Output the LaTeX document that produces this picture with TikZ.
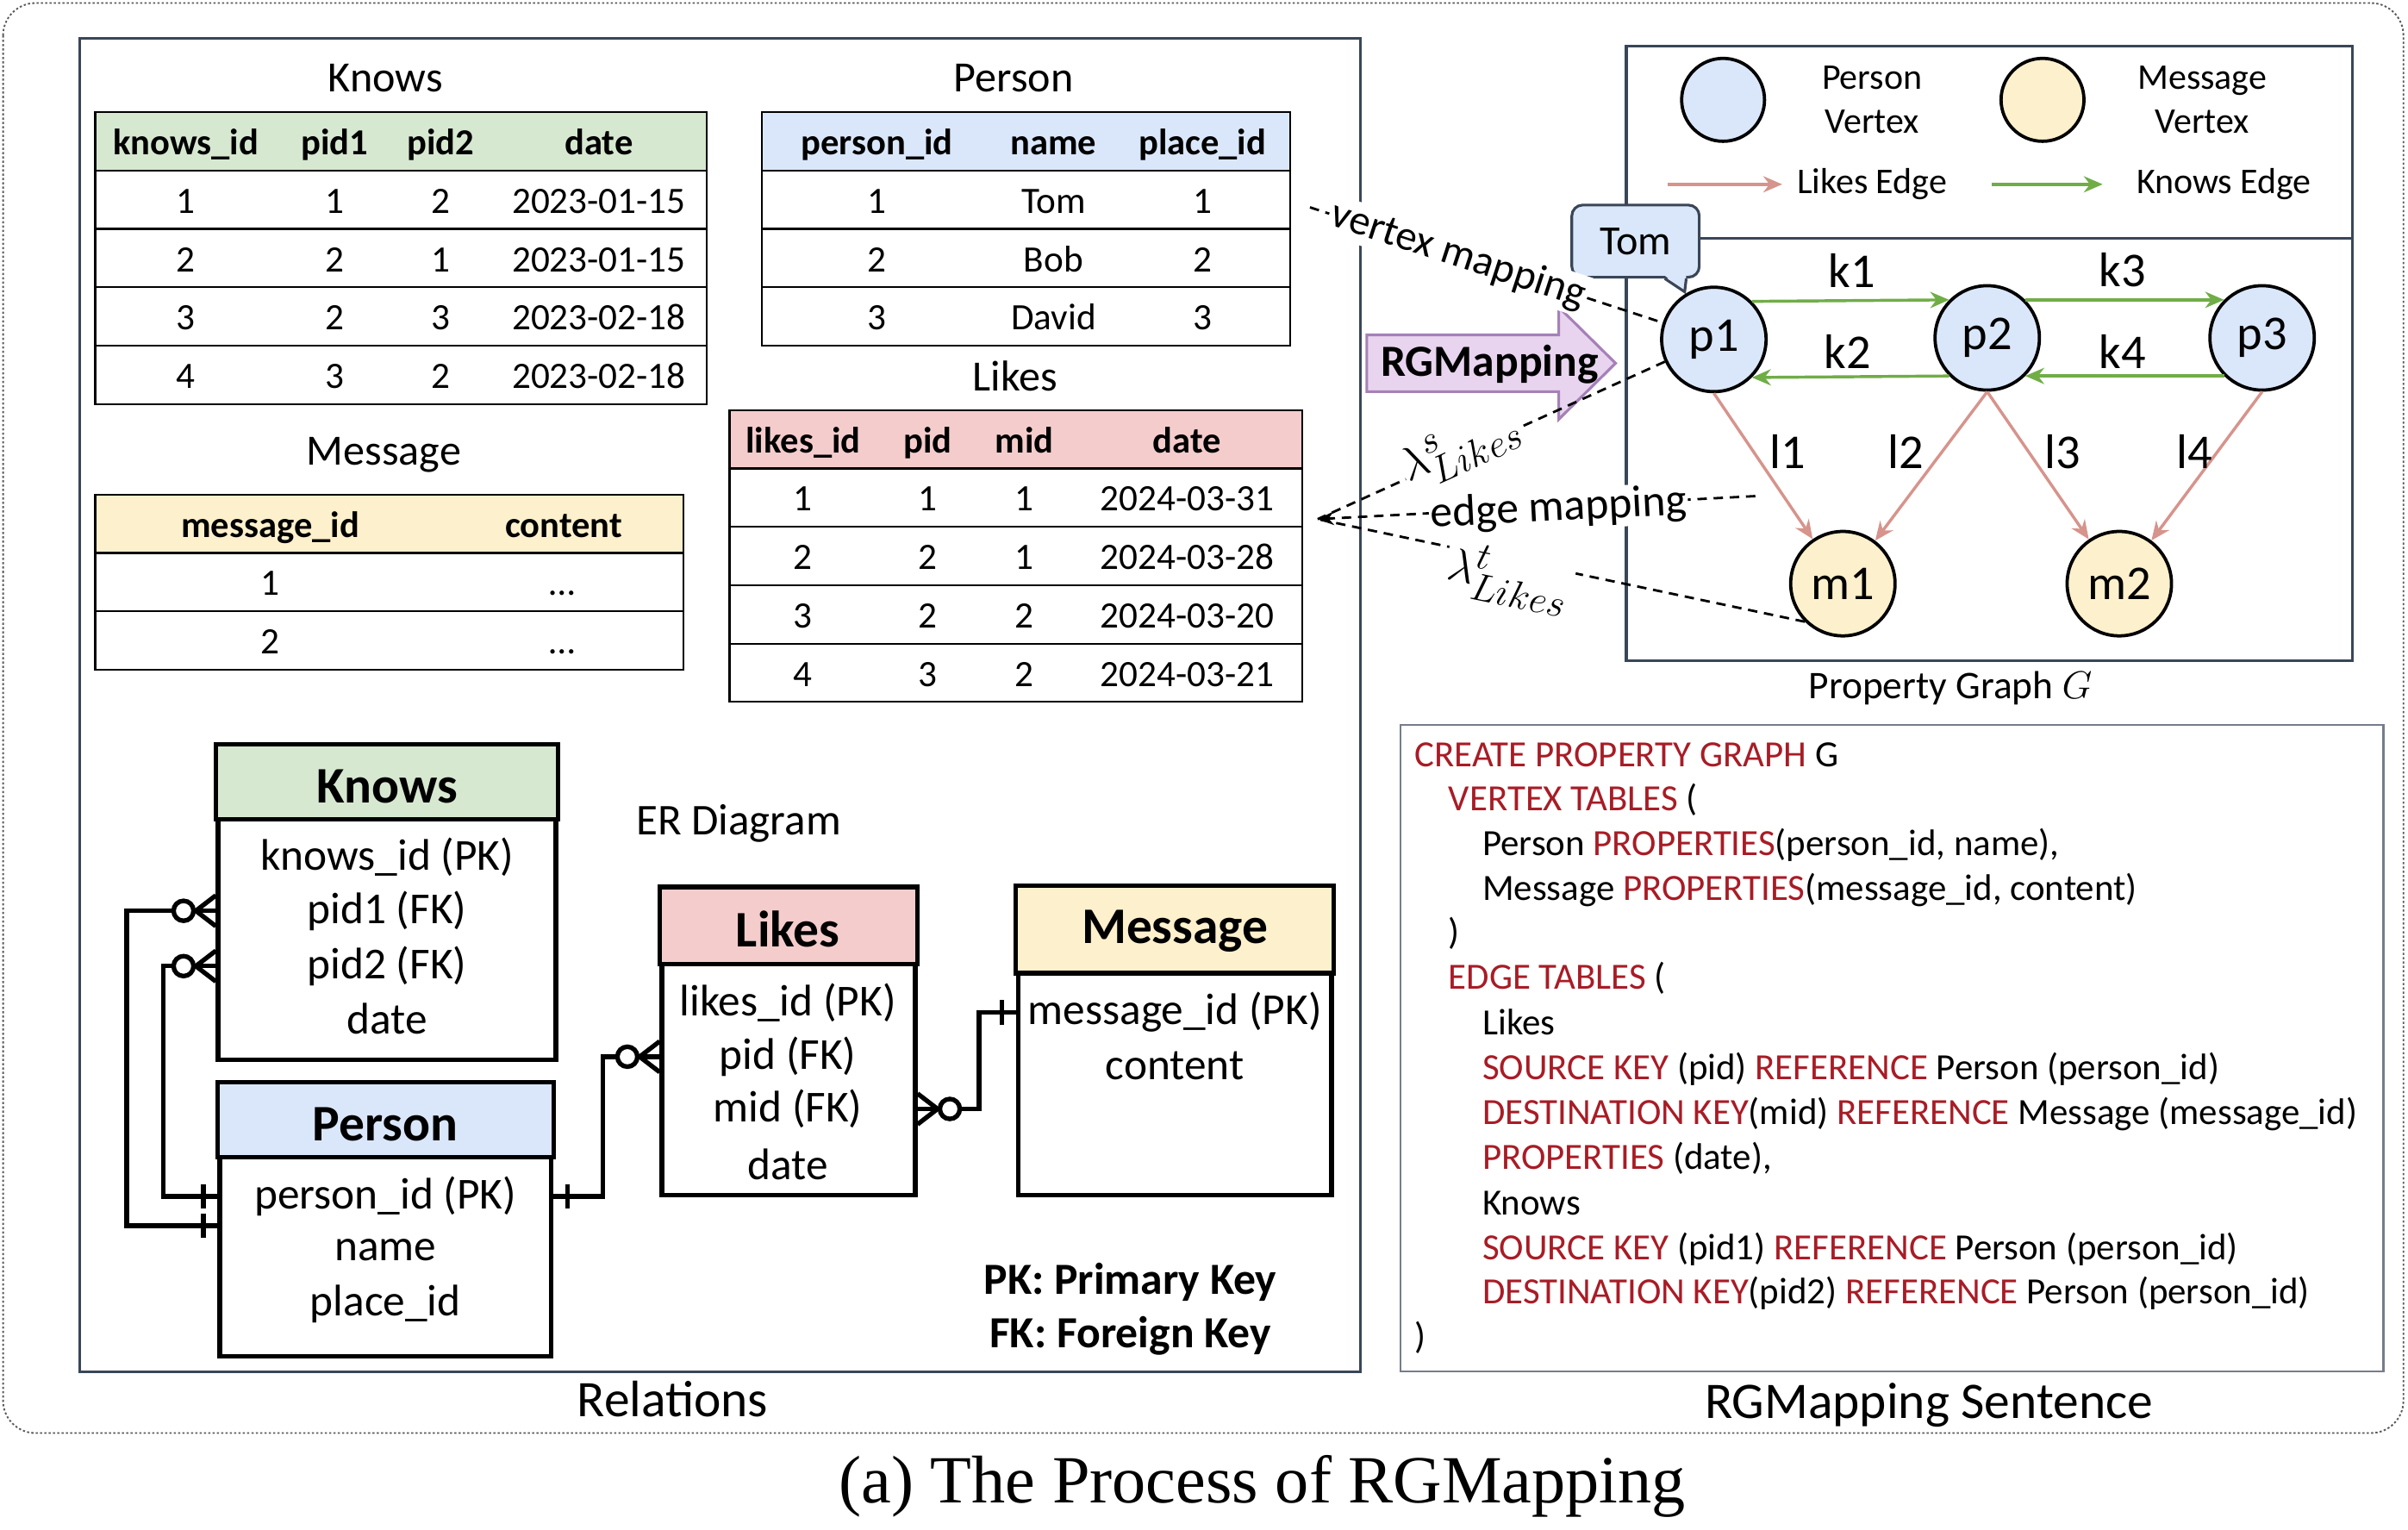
\documentclass[tikz,border=0pt]{standalone}
\usepackage{fontspec}
\setmainfont{Carlito}
\newfontfamily\capfont{Liberation Serif}
\usepackage{tikz}
\usetikzlibrary{arrows.meta,positioning,calc}
\definecolor{knowsgreen}{RGB}{214,232,208}
\definecolor{personblue}{RGB}{218,231,250}
\definecolor{likespink}{RGB}{244,204,204}
\definecolor{msgyellow}{RGB}{253,240,204}
\definecolor{framegray}{RGB}{58,70,88}
\definecolor{likesedge}{RGB}{214,148,140}
\definecolor{knowsedge}{RGB}{112,173,71}
\definecolor{sqlred}{RGB}{168,28,38}
\definecolor{arrowfill}{RGB}{232,212,238}
\definecolor{arrowdraw}{RGB}{166,128,184}
\newcommand{\kw}[1]{\textcolor{sqlred}{#1}}
% ER ends: zero-or-many and exactly-one
\newcommand{\erMany}[2]{%
  \draw[erline] ($(#1)+(0,-10)$) -- ($(#1)+(#2*13,0)$) -- ($(#1)+(0,10)$);
  \draw[erline] (#1) -- ($(#1)+(#2*15,0)$);
  \draw[erline,fill=white] ($(#1)+(#2*21,0)$) circle (6.5);}
\newcommand{\erOne}[2]{%
  \draw[erline] ($(#1)+(#2*9,-8)$) -- ($(#1)+(#2*9,8)$);}

\begin{document}
\begin{tikzpicture}[x=0.02cm,y=-0.02cm,
  ttl/.style={font=\fontsize{16}{19}\selectfont},
  hd/.style={inner sep=0pt,text height=12pt,text depth=2pt,font=\fontsize{13.6}{16}\selectfont\bfseries},
  tcell/.style={inner sep=0pt,text height=12pt,text depth=2pt,font=\fontsize{13.8}{16}\selectfont},
  tblline/.style={draw=black,line width=0.7pt},
  erbox/.style={draw,line width=1.7pt,fill=white,inner sep=0pt},
  erhd/.style={font=\fontsize{19}{22}\selectfont\bfseries},
  erbody/.style={font=\fontsize{16.4}{20}\selectfont},
  erline/.style={line width=1.7pt},
  vtx/.style={circle,draw,line width=1.2pt,minimum size=1.36cm,inner sep=0pt,font=\fontsize{18}{20}\selectfont},
  knowsarrow/.style={draw=knowsedge,line width=1.1pt,-{Stealth[length=7pt,width=6pt]}},
  likesarrow/.style={draw=likesedge,line width=1.1pt,-{Stealth[length=7pt,width=6pt]}},
  elbl/.style={font=\fontsize{18}{20}\selectfont},
  leg/.style={align=center,font=\fontsize{13.4}{16.5}\selectfont},
  dashline/.style={draw=black,line width=0.9pt,dash pattern=on 3.5pt off 2.5pt},
  sqlline/.style={anchor=base west,inner sep=0pt,font=\fontsize{13.7}{16}\selectfont},
  lab/.style={font=\fontsize{19}{22}\selectfont}]
\useasboundingbox (0,0) rectangle (1568,996);

% frames
\draw[gray!70!black,line width=0.6pt,dash pattern=on 0.8pt off 0.8pt,rounded corners=12pt] (2,2) rectangle (1565,933);
\draw[framegray,line width=1pt] (52,25) rectangle (886,893);
\draw[framegray,line width=1pt] (1059,30) rectangle (1532,430);
\draw[framegray,line width=1pt] (1059,155) -- (1532,155);
\draw[framegray!70,line width=0.8pt] (912,472) rectangle (1552,893);
\node[lab] (relations) at (438,911) {Relations};
\node[lab] (sentence) at (1256,915) {RGMapping Sentence};
\node[font=\fontsize{14.5}{17}\selectfont] (pglabel) at (1270,448) {Property Graph $G$};

% Knows table
\node[ttl] (knowsttl) at (251,51) {Knows};
\filldraw[fill=knowsgreen,tblline] (62,73) rectangle (460,111);
\foreach \y in {111,149,187,225} \draw[tblline] (62,\y) rectangle (460,\y+38);
\foreach \x/\t [count=\j] in {121/knows\_id,218/pid1,287/pid2,390/date}
  \node[hd] (knows-h-\j) at (\x,92) {\t};
\foreach \a/\b/\c/\d [count=\i] in {1/1/2/2023-01-15,2/2/1/2023-01-15,3/2/3/2023-02-18,4/3/2/2023-02-18}{
  \node[tcell] (knows-\i-a) at (121,92+38*\i) {\a};
  \node[tcell] (knows-\i-b) at (218,92+38*\i) {\b};
  \node[tcell] (knows-\i-c) at (287,92+38*\i) {\c};
  \node[tcell] (knows-\i-d) at (390,92+38*\i) {\d};
}

% Person table
\node[ttl] (personttl) at (660,51) {Person};
\filldraw[fill=personblue,tblline] (496,73) rectangle (840,111);
\foreach \y in {111,149,187} \draw[tblline] (496,\y) rectangle (840,\y+38);
\foreach \x/\t [count=\j] in {571/person\_id,686/name,783/place\_id}
  \node[hd] (person-h-\j) at (\x,92) {\t};
\foreach \a/\b/\c [count=\i] in {1/Tom/1,2/Bob/2,3/David/3}{
  \node[tcell] (person-\i-a) at (571,92+38*\i) {\a};
  \node[tcell] (person-\i-b) at (686,92+38*\i) {\b};
  \node[tcell] (person-\i-c) at (783,92+38*\i) {\c};
}

% Likes table
\node[ttl] (likesttl) at (661,245) {Likes};
\filldraw[fill=likespink,tblline] (475,267) rectangle (848,305);
\foreach \y in {305,343,381,419} \draw[tblline] (475,\y) rectangle (848,\y+38);
\foreach \x/\t [count=\j] in {523/likes\_id,604/pid,667/mid,773/date}
  \node[hd] (likes-h-\j) at (\x,286) {\t};
\foreach \a/\b/\c/\d [count=\i] in {1/1/1/2024-03-31,2/2/1/2024-03-28,3/2/2/2024-03-20,4/3/2/2024-03-21}{
  \node[tcell] (likes-\i-a) at (523,286+38*\i) {\a};
  \node[tcell] (likes-\i-b) at (604,286+38*\i) {\b};
  \node[tcell] (likes-\i-c) at (667,286+38*\i) {\c};
  \node[tcell] (likes-\i-d) at (773,286+38*\i) {\d};
}

% Message table
\node[ttl] (msgttl) at (250,296) {Message};
\filldraw[fill=msgyellow,tblline] (62,322) rectangle (445,360);
\foreach \y in {360,398} \draw[tblline] (62,\y) rectangle (445,\y+38);
\node[hd] (msg-h-1) at (176,341) {message\_id};
\node[hd] (msg-h-2) at (367,341) {content};
\foreach \a [count=\i] in {1,2}{
  \node[tcell] (msg-\i-a) at (176,341+38*\i) {\a};
  \node[tcell] (msg-\i-b) at (366,341+38*\i) {\dots};
}

% ER diagram
\node[font=\fontsize{16.3}{19}\selectfont] (erlabel) at (481,536) {ER Diagram};
\node[erbox,minimum width=4.4cm,minimum height=4.08cm] (erknows) at (252,588) {};
\filldraw[fill=knowsgreen,erline] (erknows.north west) rectangle ($(erknows.north east)+(0,49)$);
\node[erhd] (erknowsh) at (252,512) {Knows};
\node[erbody] (kpk) at (252,558) {knows\_id (PK)};
\node[erbody] (kpid1) at (252,593) {pid1 (FK)};
\node[erbody] (kpid2) at (252,629) {pid2 (FK)};
\node[erbody] (kdate) at (252,663) {date};

\node[erbox,minimum width=4.32cm,minimum height=3.54cm] (erperson) at (251,794.5) {};
\filldraw[fill=personblue,erline] (erperson.north west) rectangle ($(erperson.north east)+(0,49)$);
\node[erhd] (erpersonh) at (251,732) {Person};
\node[erbody] (ppk) at (251,779) {person\_id (PK)};
\node[erbody] (pname) at (251,814) {name};
\node[erbody] (pplace) at (251,849) {place\_id};

\node[erbox,minimum width=3.3cm,minimum height=3.98cm] (erlikes) at (513.5,678.5) {};
\filldraw[fill=likespink,erline] (erlikes.north west) rectangle ($(erlikes.north east)+(0,50)$);
\node[erhd] (erlikesh) at (513,605) {Likes};
\node[erbody] (lpk) at (513,653) {likes\_id (PK)};
\node[erbody] (lpid) at (513,688) {pid (FK)};
\node[erbody] (lmid) at (513,722) {mid (FK)};
\node[erbody] (ldate) at (513,758) {date};

\node[erbox,minimum width=4.08cm,minimum height=4cm] (ermsg) at (765,678) {};
\filldraw[fill=msgyellow,erline] (ermsg.north west) rectangle ($(ermsg.north east)+(0,57)$);
\node[erhd] (ermsgh) at (765,606) {Message};
\node[erbody] (mpk) at (765,659) {message\_id (PK)};
\node[erbody] (mcontent) at (765,694) {content};

\node[font=\fontsize{16.5}{19}\selectfont\bfseries] (pkkey) at (736,835) {PK: Primary Key};
\node[font=\fontsize{16.5}{19}\selectfont\bfseries] (fkkey) at (736,870) {FK: Foreign Key};

\coordinate (kn1) at (kpid1 -| erknows.west);
\coordinate (kn2) at (kpid2 -| erknows.west);
\coordinate (pe1) at (ppk -| erperson.west);
\coordinate (pe2) at ($(pe1)+(0,19)$);
\coordinate (pe3) at (ppk -| erperson.east);
\coordinate (lk1) at (lpid -| erlikes.west);
\coordinate (lk2) at (lmid -| erlikes.east);
\coordinate (ms1) at (mpk -| ermsg.west);
\draw[erline] ($(kn1)+(-27.5,0)$) -- ($(kn1)+(-58,0)$) |- (pe2);
\draw[erline] ($(kn2)+(-27.5,0)$) -- ($(kn2)+(-34,0)$) |- (pe1);
\draw[erline] (pe3) -- ($(pe3)+(32,0)$) |- ($(lk1)+(-27.5,0)$);
\draw[erline] ($(lk2)+(27.5,0)$) -- ($(lk2)+(40,0)$) |- (ms1);
\erMany{kn1}{-1}
\erMany{kn2}{-1}
\erOne{pe1}{-1}
\erOne{pe2}{-1}
\erOne{pe3}{1}
\erMany{lk1}{-1}
\erMany{lk2}{1}
\erOne{ms1}{-1}

% legend
\node[vtx,fill=personblue,minimum size=1.08cm] (lgp) at (1122,65) {};
\node[leg] (lgptxt) at (1219,65) {Person\\Vertex};
\node[vtx,fill=msgyellow,minimum size=1.08cm] (lgm) at (1330,65) {};
\node[leg] (lgmtxt) at (1434,65) {Message\\Vertex};
\coordinate (lgl) at (1086,120);
\node[leg,anchor=west] (lgltxt) at (1164,120) {Likes Edge};
\draw[likesarrow,shorten >=2pt] (lgl) -- (lgltxt.west);
\coordinate (lgk) at (1297,120);
\node[leg,anchor=west] (lgktxt) at (1385,120) {Knows Edge};
\draw[knowsarrow,shorten >=9pt] (lgk) -- (lgktxt.west);

% property graph
\node[vtx,fill=personblue] (p1) at (1116,221) {p1};
\node[vtx,fill=personblue] (p2) at (1294,220) {p2};
\node[vtx,fill=personblue] (p3) at (1473,220) {p3};
\node[vtx,fill=msgyellow] (m1) at (1200,380) {m1};
\node[vtx,fill=msgyellow] (m2) at (1380,380) {m2};
\draw[knowsarrow] (p1.45) -- (p2.135);
\draw[knowsarrow] (p2.-135) -- (p1.-45);
\draw[knowsarrow] (p2.45) -- (p3.135);
\draw[knowsarrow] (p3.-135) -- (p2.-45);
\draw[likesarrow] (p1.south) -- (m1);
\draw[likesarrow] (p2.south) -- (m1);
\draw[likesarrow] (p2.south) -- (m2);
\draw[likesarrow] (p3.south) -- (m2);
\node[elbl] (k1) at (1206,176) {k1};
\node[elbl] (k2) at (1203,229) {k2};
\node[elbl] (k3) at (1382,176) {k3};
\node[elbl] (k4) at (1382,229) {k4};
\node[elbl] (l1) at (1164,294) {l1};
\node[elbl] (l2) at (1241,294) {l2};
\node[elbl] (l3) at (1343,294) {l3};
\node[elbl] (l4) at (1429,294) {l4};

% Tom callout
\node[draw=framegray,fill=personblue,rounded corners=4pt,line width=1pt,minimum width=1.66cm,minimum height=0.94cm,font=\fontsize{15.4}{18}\selectfont] (tom) at (1065,157) {Tom};
\fill[personblue] ($(tom.south)+(19,-2)$) -- (1097,190) -- ($(tom.south)+(33,-2)$) -- cycle;
\draw[framegray,line width=1pt] ($(tom.south)+(19,0)$) -- (1097,190) -- ($(tom.south)+(33,0)$);

% RGMapping arrow
\filldraw[fill=arrowfill,draw=arrowdraw,line width=1pt] (890,218) -- (1015,218) -- (1015,200) -- (1052,236.5) -- (1015,273) -- (1015,255) -- (890,255) -- cycle;
\node[font=\fontsize{16.5}{19}\selectfont\bfseries] (rgm) at (970,237) {RGMapping};

% mappings
\coordinate (vmstart) at (853,135);
\draw[dashline] (vmstart) -- node[pos=0.42,sloped,fill=white,inner sep=1pt,font=\fontsize{15.6}{18}\selectfont] (vmlbl) {vertex mapping} (p1);
\coordinate (emtip) at (858,338);
\coordinate (emstart) at (1143,323);
\draw[dashline,-{Stealth[length=6pt,width=5pt]}] (emstart) -- node[pos=0.45,sloped,fill=white,inner sep=0.5pt,yshift=-1pt,font=\fontsize{16.5}{19}\selectfont] (emlbl) {edge mapping} (emtip);
\draw[dashline] (p1) -- node[pos=0.58,sloped,fill=white,inner sep=0.5pt,yshift=2pt,font=\fontsize{19}{22}\selectfont] (lslbl) {$\lambda^{s}_{Likes}$} (emtip);
\draw[dashline] (m1.225) -- node[pos=0.6,sloped,fill=white,inner sep=1pt,yshift=-7pt,font=\fontsize{19}{22}\selectfont] (ltlbl) {$\lambda^{t}_{Likes}$} (emtip);

% RGMapping sentence
\node[sqlline] (s1) at (921,499) {\kw{CREATE PROPERTY GRAPH} G};
\node[sqlline] (s2) at (943,528) {\kw{VERTEX TABLES} (};
\node[sqlline] (s3) at (965,557) {Person \kw{PROPERTIES}(person\_id, name),};
\node[sqlline] (s4) at (965,586) {Message \kw{PROPERTIES}(message\_id, content)};
\node[sqlline] (s5) at (943,615) {)};
\node[sqlline] (s6) at (943,644) {\kw{EDGE TABLES} (};
\node[sqlline] (s7) at (965,674) {Likes};
\node[sqlline] (s8) at (965,703) {\kw{SOURCE KEY} (pid) \kw{REFERENCE} Person (person\_id)};
\node[sqlline] (s9) at (965,732) {\kw{DESTINATION KEY}(mid) \kw{REFERENCE} Message (message\_id)};
\node[sqlline] (s10) at (965,761) {\kw{PROPERTIES} (date),};
\node[sqlline] (s11) at (965,791) {Knows};
\node[sqlline] (s12) at (965,820) {\kw{SOURCE KEY} (pid1) \kw{REFERENCE} Person (person\_id)};
\node[sqlline] (s13) at (965,849) {\kw{DESTINATION KEY}(pid2) \kw{REFERENCE} Person (person\_id)};
\node[sqlline] (s14) at (921,878) {)};

% caption
\node[font=\capfont\fontsize{25}{30}\selectfont] (caption) at (822,968) {(a) The Process of RGMapping};
\end{tikzpicture}
\end{document}
